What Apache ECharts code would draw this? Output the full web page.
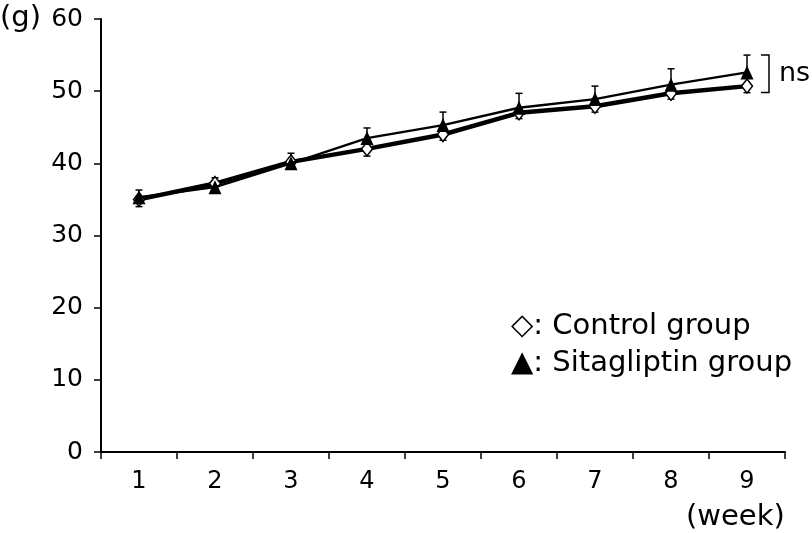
<!DOCTYPE html>
<html><head><meta charset="utf-8">
<script src="https://cdn.jsdelivr.net/npm/echarts@6/dist/echarts.min.js"></script>
<style>html,body{margin:0;padding:0;background:#fff}#c{width:812px;height:533px}</style>
</head><body><div id="c"></div>
<script>
const weeks = ['1','2','3','4','5','6','7','8','9'];
const controlMean = [35.0, 37.2, 40.2, 42.0, 44.0, 47.0, 47.9, 49.7, 50.7];
const controlSD   = [1.0, 0.9, 0.8, 1.0, 0.8, 0.8, 0.8, 0.8, 0.9];
const sitaMean    = [35.3, 36.7, 40.0, 43.5, 45.3, 47.7, 48.9, 50.9, 52.6];
const sitaSD      = [1.0, 1.3, 1.4, 1.4, 1.8, 2.0, 1.8, 2.2, 2.4];
const yTicks = [0, 10, 20, 30, 40, 50, 60];

const FONT = 'DejaVu Sans';
const chart = echarts.init(document.getElementById('c'), null, {renderer: 'canvas'});

function errSeries(name, means, sds, dir) {
  return {
    type: 'custom', name: name, z: 1,
    data: weeks.map((w, i) => [i, means[i], means[i] + dir * sds[i]]),
    renderItem: function (params, api) {
      const p0 = api.coord([api.value(0), api.value(1)]);
      const p1 = api.coord([api.value(0), api.value(2)]);
      const hw = 3.5;
      return {
        type: 'group',
        children: [
          {type: 'line', shape: {x1: p0[0], y1: p0[1], x2: p1[0], y2: p1[1]}, style: {stroke: '#000', lineWidth: 1.5}},
          {type: 'line', shape: {x1: p1[0] - hw, y1: p1[1], x2: p1[0] + hw, y2: p1[1]}, style: {stroke: '#000', lineWidth: 1.5}}
        ]
      };
    }
  };
}

chart.setOption({
  animation: false,
  grid: {left: 101, right: 27, top: 19, bottom: 81},
  xAxis: {
    type: 'category', data: weeks, boundaryGap: true,
    axisLine: {lineStyle: {color: '#000', width: 2}},
    axisTick: {show: true, length: 7, lineStyle: {color: '#000', width: 1.5}, alignWithLabel: false},
    axisLabel: {color: '#000', fontFamily: FONT, fontSize: 24, margin: 18},
    splitLine: {show: false}
  },
  yAxis: {
    type: 'value', min: 0, max: 60, interval: 10,
    axisLine: {show: true, lineStyle: {color: '#000', width: 2}},
    axisTick: {show: true, length: 7, lineStyle: {color: '#000', width: 1.5}},
    axisLabel: {color: '#000', fontFamily: FONT, fontSize: 25, margin: 18,
      formatter: v => yTicks.includes(v) ? String(v) : ''},
    splitLine: {show: false}
  },
  series: [
    errSeries('sitaErr', sitaMean, sitaSD, 1),
    errSeries('ctrlErr', controlMean, controlSD, -1),
    {
      name: 'Control group', type: 'line', data: controlMean, z: 3,
      symbol: 'diamond', symbolSize: [11, 14],
      itemStyle: {color: '#fff', borderColor: '#000', borderWidth: 1.5},
      lineStyle: {color: '#000', width: 4.5}
    },
    {
      name: 'Sitagliptin group', type: 'line', data: sitaMean, z: 4,
      symbol: 'triangle', symbolSize: [13, 14],
      itemStyle: {color: '#000', borderColor: '#000', borderWidth: 0},
      lineStyle: {color: '#000', width: 2.4}
    }
  ]
});

const topP = chart.convertToPixel({gridIndex: 0}, [8, sitaMean[8] + sitaSD[8]]);
const botP = chart.convertToPixel({gridIndex: 0}, [8, controlMean[8] - controlSD[8]]);
const bx = topP[0] + 14;
function txt(t, x, y, fs) {
  return {type: 'text', x: x, y: y, style: {text: t, fontSize: fs, fontFamily: FONT, fill: '#000', textVerticalAlign: 'middle', verticalAlign: 'middle'}};
}
chart.setOption({
  graphic: [
    {type: 'polyline', shape: {points: [[bx, topP[1]], [bx + 8, topP[1]], [bx + 8, botP[1]], [bx, botP[1]]]},
     style: {stroke: '#000', lineWidth: 1.5, fill: null}},
    txt('ns', bx + 18, (topP[1] + botP[1]) / 2, 27),
    txt('(g)', 0, 18, 29),
    txt('(week)', 686, 517, 29),
    txt('\u25C7: Control group', 511, 326, 29),
    txt('\u25B2: Sitagliptin group', 511, 363, 29)
  ]
});
</script></body></html>
